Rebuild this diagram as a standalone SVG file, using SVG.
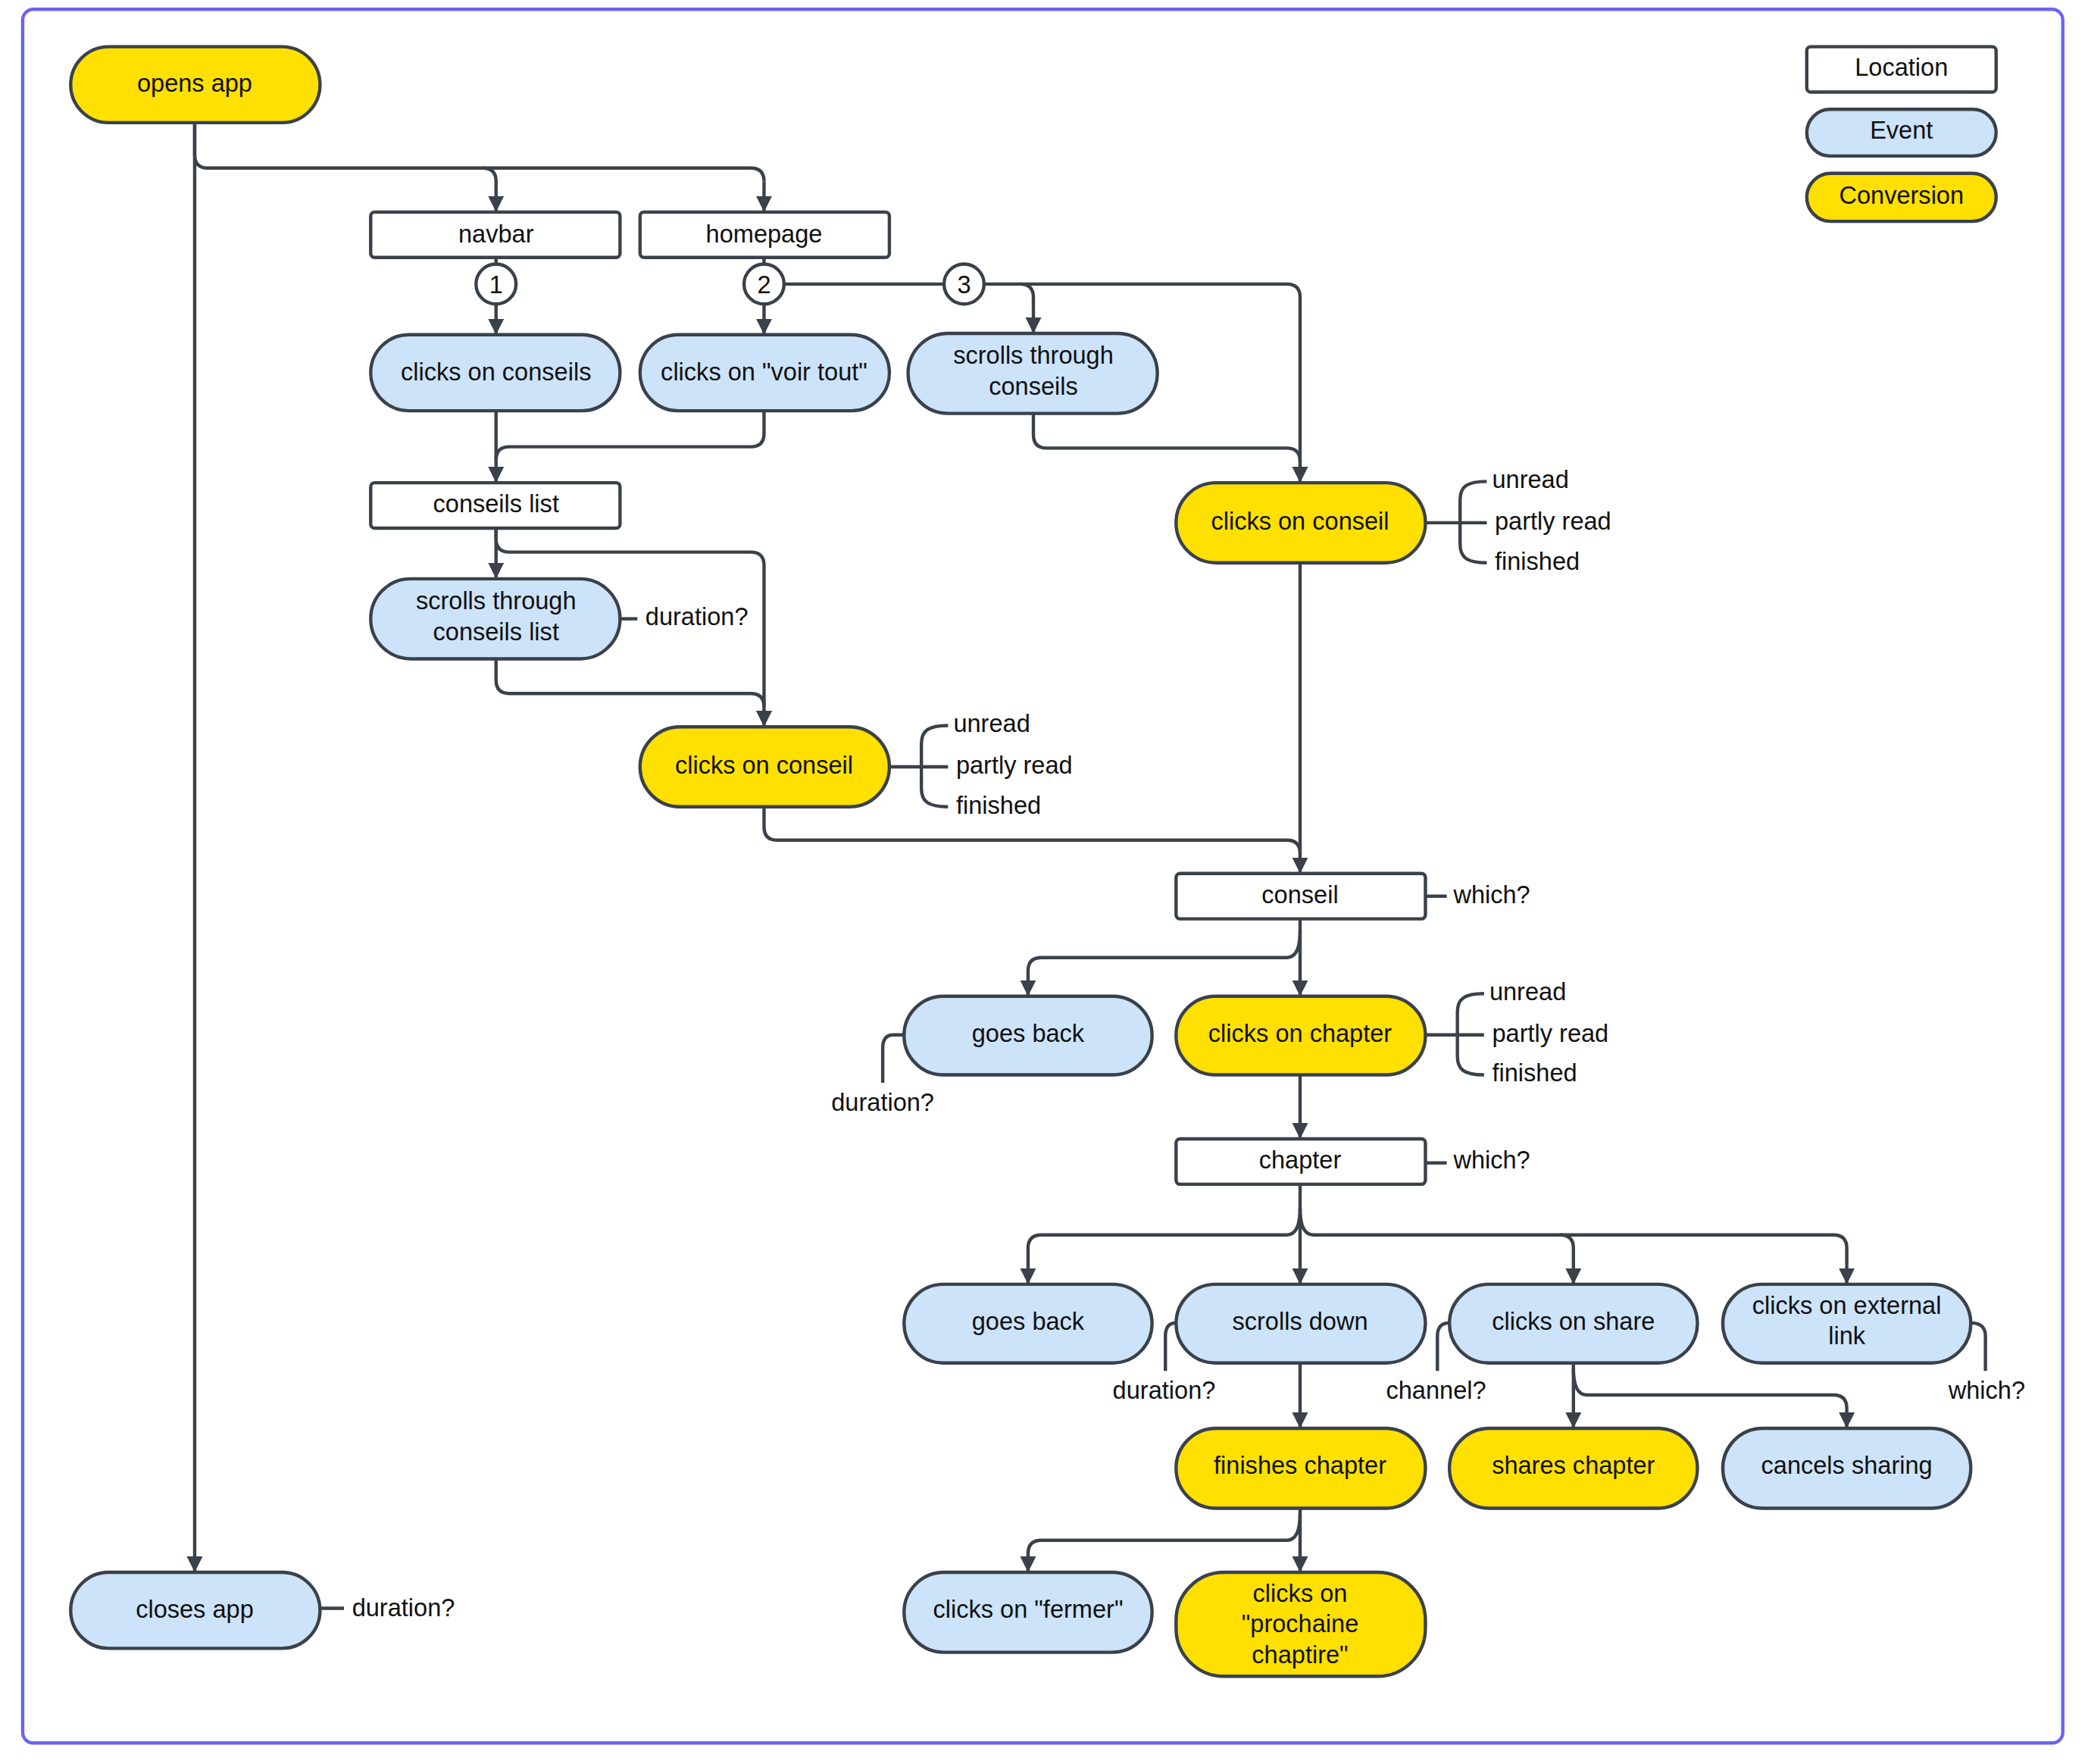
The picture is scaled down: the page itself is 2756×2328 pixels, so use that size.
<svg xmlns="http://www.w3.org/2000/svg" width="2756" height="2328" viewBox="0 0 2756 2328">
<defs>
<style>
.loc{fill:#fff;stroke:#3a414a;stroke-width:2.5}
.ev{fill:#cce3fa;stroke:#3a414a;stroke-width:2.5}
.cv{fill:#ffe000;stroke:#3a414a;stroke-width:2.5}
.c{fill:none;stroke:#3a414a;stroke-width:2.5}
.a{marker-end:url(#arr)}
text{font-family:"Liberation Sans",Arial,sans-serif;font-size:18.5px;fill:#111}
.m{text-anchor:middle}
</style>
<marker id="arr" markerUnits="userSpaceOnUse" markerWidth="12" markerHeight="12" refX="12" refY="6" orient="auto"><path d="M0,0 L12,6 L0,12 z" fill="#3a414a"/></marker>
</defs>
<rect width="2756" height="2328" fill="#fff"/>
<g transform="scale(1.760)">
<rect x="17" y="7" width="1530" height="1300" rx="8" fill="none" stroke="#6b63f0" stroke-width="2.5"/>
<g id="connectors">
<path class="c a" d="M146 92 V1179"/>
<path class="c" d="M146 92 V116 Q146 126 156 126 H563 Q573 126 573 136"/>
<path class="c a" d="M573 136 V159"/>
<path class="c a" d="M362 126 Q372 126 372 136 V159"/>
<path class="c" d="M372 193 V198"/>
<path class="c a" d="M372 228 V251"/>
<path class="c" d="M573 193 V198"/>
<path class="c a" d="M573 228 V251"/>
<path class="c" d="M588 213 H708"/>
<path class="c a" d="M738 213 H765 Q775 213 775 223 V250"/>
<path class="c a" d="M765 213 H965 Q975 213 975 223 V362"/>
<path class="c a" d="M372 308 V362"/>
<path class="c" d="M573 308 V325 Q573 335 563 335 H382 Q372 335 372 345"/>
<path class="c" d="M775 310 V326 Q775 336 785 336 H965 Q975 336 975 346"/>
<path class="c a" d="M372 396 V434"/>
<path class="c a" d="M372 396 V404 Q372 414 382 414 H563 Q573 414 573 424 V545"/>
<path class="c" d="M372 494 V510 Q372 520 382 520 H563 Q573 520 573 530"/>
<path class="c a" d="M573 605 V620 Q573 630 583 630 H965 Q975 630 975 640 V655"/>
<path class="c" d="M975 422 V640"/>
<path class="c a" d="M975 689 V747"/>
<path class="c a" d="M975 698 Q975 718 965 718 H781 Q771 718 771 728 V747"/>
<path class="c a" d="M975 806 V854"/>
<path class="c a" d="M975 888 V963"/>
<path class="c a" d="M975 906 Q975 926 965 926 H781 Q771 926 771 936 V963"/>
<path class="c a" d="M975 906 Q975 926 985 926 H1170 Q1180 926 1180 936 V963"/>
<path class="c a" d="M1170 926 H1375 Q1385 926 1385 936 V963"/>
<path class="c a" d="M975 1022 V1071"/>
<path class="c a" d="M1180 1022 V1071"/>
<path class="c a" d="M1180 1026 Q1180 1046 1190 1046 H1375 Q1385 1046 1385 1056 V1071"/>
<path class="c a" d="M975 1131 V1179"/>
<path class="c a" d="M975 1135 Q975 1155 965 1155 H781 Q771 1155 771 1165 V1179"/>
<path class="c" d="M465 464 H478"/>
<path class="c" d="M1069 392 H1115 M1115 361 C1100 361 1095 365 1095 375 V408 C1095 418 1100 422 1115 422"/>
<path class="c" d="M667 575 H711 M711 544 C696 544 691 548 691 558 V591 C691 601 696 605 711 605"/>
<path class="c" d="M1069 776 H1113 M1113 745 C1098 745 1093 749 1093 759 V792 C1093 802 1098 806 1113 806"/>
<path class="c" d="M1069 672 H1085"/>
<path class="c" d="M1069 872 H1085"/>
<path class="c" d="M678 776 H670 Q662 776 662 786 V812"/>
<path class="c" d="M882 992 Q874 992 874 1002 V1028"/>
<path class="c" d="M1087 992 Q1078 992 1078 1002 V1028"/>
<path class="c" d="M1478 992 Q1489 992 1489 1002 V1028"/>
<path class="c" d="M240 1206 H258"/>
</g>
<g id="opens-app"><rect class="cv" x="53" y="35" width="187" height="57" rx="28.5"/><text class="m" x="146" y="69">opens app</text></g>
<g id="navbar"><rect class="loc" x="278" y="159" width="187" height="34" rx="3"/><text class="m" x="372" y="182">navbar</text></g>
<g id="homepage"><rect class="loc" x="480" y="159" width="187" height="34" rx="3"/><text class="m" x="573" y="182">homepage</text></g>
<g id="c1"><circle class="loc" cx="372" cy="213" r="15"/><text class="m" x="372" y="220">1</text></g>
<g id="c2"><circle class="loc" cx="573" cy="213" r="15"/><text class="m" x="573" y="220">2</text></g>
<g id="c3"><circle class="loc" cx="723" cy="213" r="15"/><text class="m" x="723" y="220">3</text></g>
<g id="clicks-conseils"><rect class="ev" x="278" y="251" width="187" height="57" rx="28.5"/><text class="m" x="372" y="285">clicks on conseils</text></g>
<g id="voir-tout"><rect class="ev" x="480" y="251" width="187" height="57" rx="28.5"/><text class="m" x="573" y="285">clicks on "voir tout"</text></g>
<g id="scrolls-conseils"><rect class="ev" x="681" y="250" width="187" height="60" rx="30"/><text class="m" x="775" y="273">scrolls through</text><text class="m" x="775" y="296">conseils</text></g>
<g id="conseils-list"><rect class="loc" x="278" y="362" width="187" height="34" rx="3"/><text class="m" x="372" y="384">conseils list</text></g>
<g id="scrolls-list"><rect class="ev" x="278" y="434" width="187" height="60" rx="30"/><text class="m" x="372" y="457">scrolls through</text><text class="m" x="372" y="480">conseils list</text></g>
<text x="484" y="469">duration?</text>
<g id="conseil-right"><rect class="cv" x="882" y="362" width="187" height="60" rx="30"/><text class="m" x="975" y="397">clicks on conseil</text></g>
<text x="1119" y="366">unread</text><text x="1121" y="397">partly read</text><text x="1121" y="427">finished</text>
<g id="conseil-left"><rect class="cv" x="480" y="545" width="187" height="60" rx="30"/><text class="m" x="573" y="580">clicks on conseil</text></g>
<text x="715" y="549">unread</text><text x="717" y="580">partly read</text><text x="717" y="610">finished</text>
<g id="conseil"><rect class="loc" x="882" y="655" width="187" height="34" rx="3"/><text class="m" x="975" y="677">conseil</text></g>
<text x="1090" y="677">which?</text>
<g id="goes-back-1"><rect class="ev" x="678" y="747" width="186" height="59" rx="29.5"/><text class="m" x="771" y="781">goes back</text></g>
<text class="m" x="662" y="833">duration?</text>
<g id="clicks-chapter"><rect class="cv" x="882" y="747" width="187" height="59" rx="29.5"/><text class="m" x="975" y="781">clicks on chapter</text></g>
<text x="1117" y="750">unread</text><text x="1119" y="781">partly read</text><text x="1119" y="811">finished</text>
<g id="chapter"><rect class="loc" x="882" y="854" width="187" height="34" rx="3"/><text class="m" x="975" y="876">chapter</text></g>
<text x="1090" y="876">which?</text>
<g id="goes-back-2"><rect class="ev" x="678" y="963" width="186" height="59" rx="29.5"/><text class="m" x="771" y="997">goes back</text></g>
<g id="scrolls-down"><rect class="ev" x="882" y="963" width="187" height="59" rx="29.5"/><text class="m" x="975" y="997">scrolls down</text></g>
<text class="m" x="873" y="1049">duration?</text>
<g id="clicks-share"><rect class="ev" x="1087" y="963" width="186" height="59" rx="29.5"/><text class="m" x="1180" y="997">clicks on share</text></g>
<text class="m" x="1077" y="1049">channel?</text>
<g id="external-link"><rect class="ev" x="1292" y="963" width="186" height="59" rx="29.5"/><text class="m" x="1385" y="985">clicks on external</text><text class="m" x="1385" y="1008">link</text></g>
<text class="m" x="1490" y="1049">which?</text>
<g id="finishes-chapter"><rect class="cv" x="882" y="1071" width="187" height="60" rx="30"/><text class="m" x="975" y="1105">finishes chapter</text></g>
<g id="shares-chapter"><rect class="cv" x="1087" y="1071" width="186" height="60" rx="30"/><text class="m" x="1180" y="1105">shares chapter</text></g>
<g id="cancels-sharing"><rect class="ev" x="1292" y="1071" width="186" height="60" rx="30"/><text class="m" x="1385" y="1105">cancels sharing</text></g>
<g id="fermer"><rect class="ev" x="678" y="1179" width="186" height="60" rx="30"/><text class="m" x="771" y="1213">clicks on "fermer"</text></g>
<g id="prochaine"><rect class="cv" x="882" y="1179" width="187" height="78" rx="36"/><text class="m" x="975" y="1201">clicks on</text><text class="m" x="975" y="1224">"prochaine</text><text class="m" x="975" y="1247">chaptire"</text></g>
<g id="closes-app"><rect class="ev" x="53" y="1179" width="187" height="57" rx="28.5"/><text class="m" x="146" y="1213">closes app</text></g>
<text x="264" y="1212">duration?</text>
<g id="legend-location"><rect class="loc" x="1355" y="35" width="142" height="34" rx="3"/><text class="m" x="1426" y="57">Location</text></g>
<g id="legend-event"><rect class="ev" x="1355" y="82" width="142" height="35" rx="17.5"/><text class="m" x="1426" y="104">Event</text></g>
<g id="legend-conversion"><rect class="cv" x="1355" y="130" width="142" height="36" rx="18"/><text class="m" x="1426" y="153">Conversion</text></g>
</g>
</svg>
